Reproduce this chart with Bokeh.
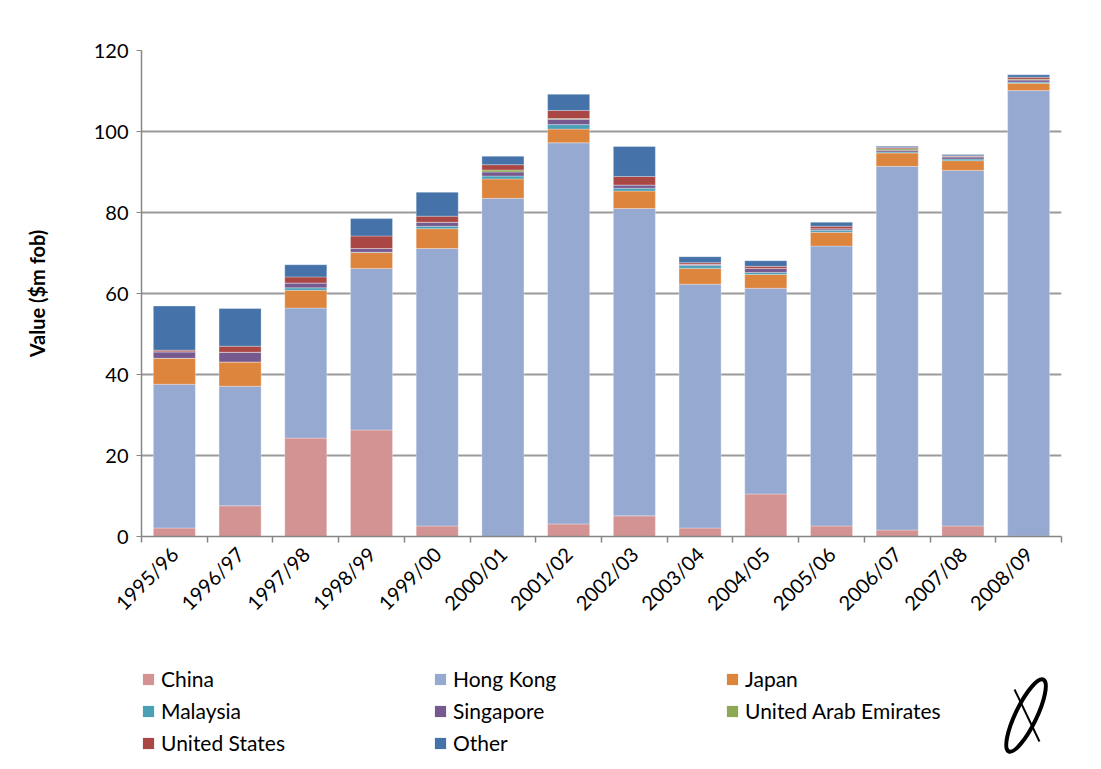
import math
from bokeh.plotting import figure
from bokeh.layouts import column
from bokeh.models import FixedTicker, Legend, LegendItem, ColumnDataSource, Range1d
from bokeh.embed import file_html
from bokeh.resources import INLINE

years = ["1995/96", "1996/97", "1997/98", "1998/99", "1999/00", "2000/01", "2001/02",
         "2002/03", "2003/04", "2004/05", "2005/06", "2006/07", "2007/08", "2008/09"]

china     = [2.1, 7.6, 24.3, 26.3, 2.6, 0.0, 3.1, 5.1, 2.1, 10.5, 2.6, 1.6, 2.6, 0.1]
hong_kong = [35.5, 29.5, 32.1, 39.9, 68.5, 83.5, 94.1, 75.9, 60.2, 50.8, 69.1, 89.8, 87.8, 110.0]
japan     = [6.4, 6.0, 4.4, 3.9, 4.9, 4.8, 3.4, 4.3, 3.9, 3.4, 3.4, 3.3, 2.4, 1.8]
malaysia  = [0.0, 0.0, 0.6, 0.1, 0.6, 0.7, 1.1, 0.7, 0.7, 0.5, 0.5, 0.25, 0.4, 0.3]
singapore = [1.6, 2.4, 1.2, 0.9, 1.0, 1.0, 1.3, 0.8, 0.3, 1.0, 0.4, 0.4, 0.5, 0.5]
uae       = [0.0, 0.0, 0.0, 0.0, 0.0, 0.5, 0.2, 0.0, 0.0, 0.0, 0.0, 0.4, 0.1, 0.2]
united_states = [0.4, 1.5, 1.5, 3.1, 1.5, 1.3, 2.0, 2.1, 0.4, 0.5, 0.6, 0.3, 0.2, 0.5]
other     = [10.9, 9.3, 3.0, 4.3, 5.9, 2.1, 4.0, 7.4, 1.5, 1.4, 1.0, 0.3, 0.3, 0.6]

series_names = ["China", "Hong Kong", "Japan", "Malaysia", "Singapore",
                "United Arab Emirates", "United States", "Other"]
series_values = [china, hong_kong, japan, malaysia, singapore, uae, united_states, other]
colors = ["#D39393", "#95A9D1", "#DD843D", "#4AA0B6", "#765A8F", "#8EA953", "#AA4644", "#4573A9"]

y_ticks = [0, 20, 40, 60, 80, 100, 120]

FONT = "Lato"
LEFT, RIGHT = 141, 40

# ---------------- main chart ----------------
p = figure(width=1101, height=650, output_backend="svg", toolbar_location=None,
           x_range=Range1d(0, len(years)), y_range=Range1d(0, 120))
p.min_border_left = LEFT
p.min_border_right = RIGHT
p.min_border_top = 50
p.min_border_bottom = 114
p.outline_line_color = None
p.background_fill_color = "white"
p.border_fill_color = "white"

xc = [i + 0.5 for i in range(len(years))]
bottoms = [0.0] * len(years)
for name, vals, col in zip(series_names, series_values, colors):
    tops = [b + v for b, v in zip(bottoms, vals)]
    src = ColumnDataSource(dict(x=xc, bottom=bottoms, top=tops))
    p.vbar(x="x", bottom="bottom", top="top", width=0.64, source=src,
           fill_color=col, line_color="white", line_width=0.6, line_alpha=0.5)
    bottoms = tops

p.xgrid.visible = False
p.ygrid.grid_line_color = "#9A9A9A"
p.ygrid.grid_line_width = 2
p.ygrid.ticker = FixedTicker(ticks=y_ticks)

p.yaxis.ticker = FixedTicker(ticks=y_ticks)
p.yaxis.axis_line_color = "#868686"
p.yaxis.axis_line_width = 1.5
p.yaxis.major_tick_line_color = "#868686"
p.yaxis.major_tick_out = 5
p.yaxis.major_tick_in = 0
p.yaxis.minor_tick_line_color = None
p.yaxis.major_label_text_font = FONT
p.yaxis.major_label_text_font_size = "20px"
p.yaxis.major_label_text_color = "black"
p.yaxis.major_label_standoff = 8
p.yaxis.axis_label = "Value ($m fob)"
p.yaxis.axis_label_text_font = FONT
p.yaxis.axis_label_text_font_size = "20px"
p.yaxis.axis_label_text_font_style = "bold"
p.yaxis.axis_label_text_color = "black"
p.yaxis.axis_label_standoff = 42

p.xaxis.ticker = FixedTicker(ticks=xc, minor_ticks=list(range(len(years) + 1)))
p.xaxis.major_label_overrides = {x: y for x, y in zip(xc, years)}
p.xaxis.major_label_orientation = math.pi / 4
p.xaxis.major_label_text_font = FONT
p.xaxis.major_label_text_font_size = "20px"
p.xaxis.major_label_text_color = "black"
p.xaxis.major_tick_line_color = None
p.xaxis.minor_tick_line_color = "#868686"
p.xaxis.minor_tick_line_width = 1.5
p.xaxis.minor_tick_out = 6
p.xaxis.minor_tick_in = 0
p.xaxis.axis_line_color = "#868686"
p.xaxis.axis_line_width = 1.5
p.xaxis.major_label_standoff = 8

# ---------------- legend strip ----------------
q = figure(width=1101, height=119, output_backend="svg", toolbar_location=None,
           x_range=Range1d(LEFT, 1101), y_range=Range1d(0, 119),
           x_axis_type=None, y_axis_type=None)
q.min_border = 0
q.min_border_left = LEFT
q.min_border_right = 0
q.outline_line_color = None
q.xgrid.visible = False
q.ygrid.visible = False
q.background_fill_color = "white"
q.border_fill_color = "white"

legend_renderers = {}
for name, col in zip(series_names, colors):
    # off-screen placeholder so the legend has a swatch to draw
    src = ColumnDataSource(dict(x=[-500], top=[-500]))
    legend_renderers[name] = q.vbar(x="x", top="top", width=1, source=src,
                                    fill_color=col, line_color=None)

# column-major order so the grid reads row by row like the reference
legend_order = ["China", "Malaysia", "United States",
                "Hong Kong", "Singapore", "Other",
                "Japan", "United Arab Emirates"]
items = [LegendItem(label=n, renderers=[legend_renderers[n]]) for n in legend_order]
legend = Legend(items=items, orientation="vertical", nrows=3,
                label_text_font=FONT, label_text_font_size="21px",
                label_text_color="black",
                glyph_width=14, glyph_height=14, label_standoff=6,
                label_width=265, label_height=25, spacing=7,
                padding=0, margin=0, border_line_color=None,
                background_fill_alpha=0,
                location=(0, 14))
q.add_layout(legend, "center")

# logo mark (decorative)
q.ellipse(x=[1064], y=[54], width=22, height=80, angle=-0.45,
          fill_color=None, line_color="black", line_width=4)
q.line(x=[1052, 1078], y=[80, 28], line_color="black", line_width=2)

layout = column(p, q, spacing=0)
open("out.html", "w").write(file_html(layout, INLINE))
